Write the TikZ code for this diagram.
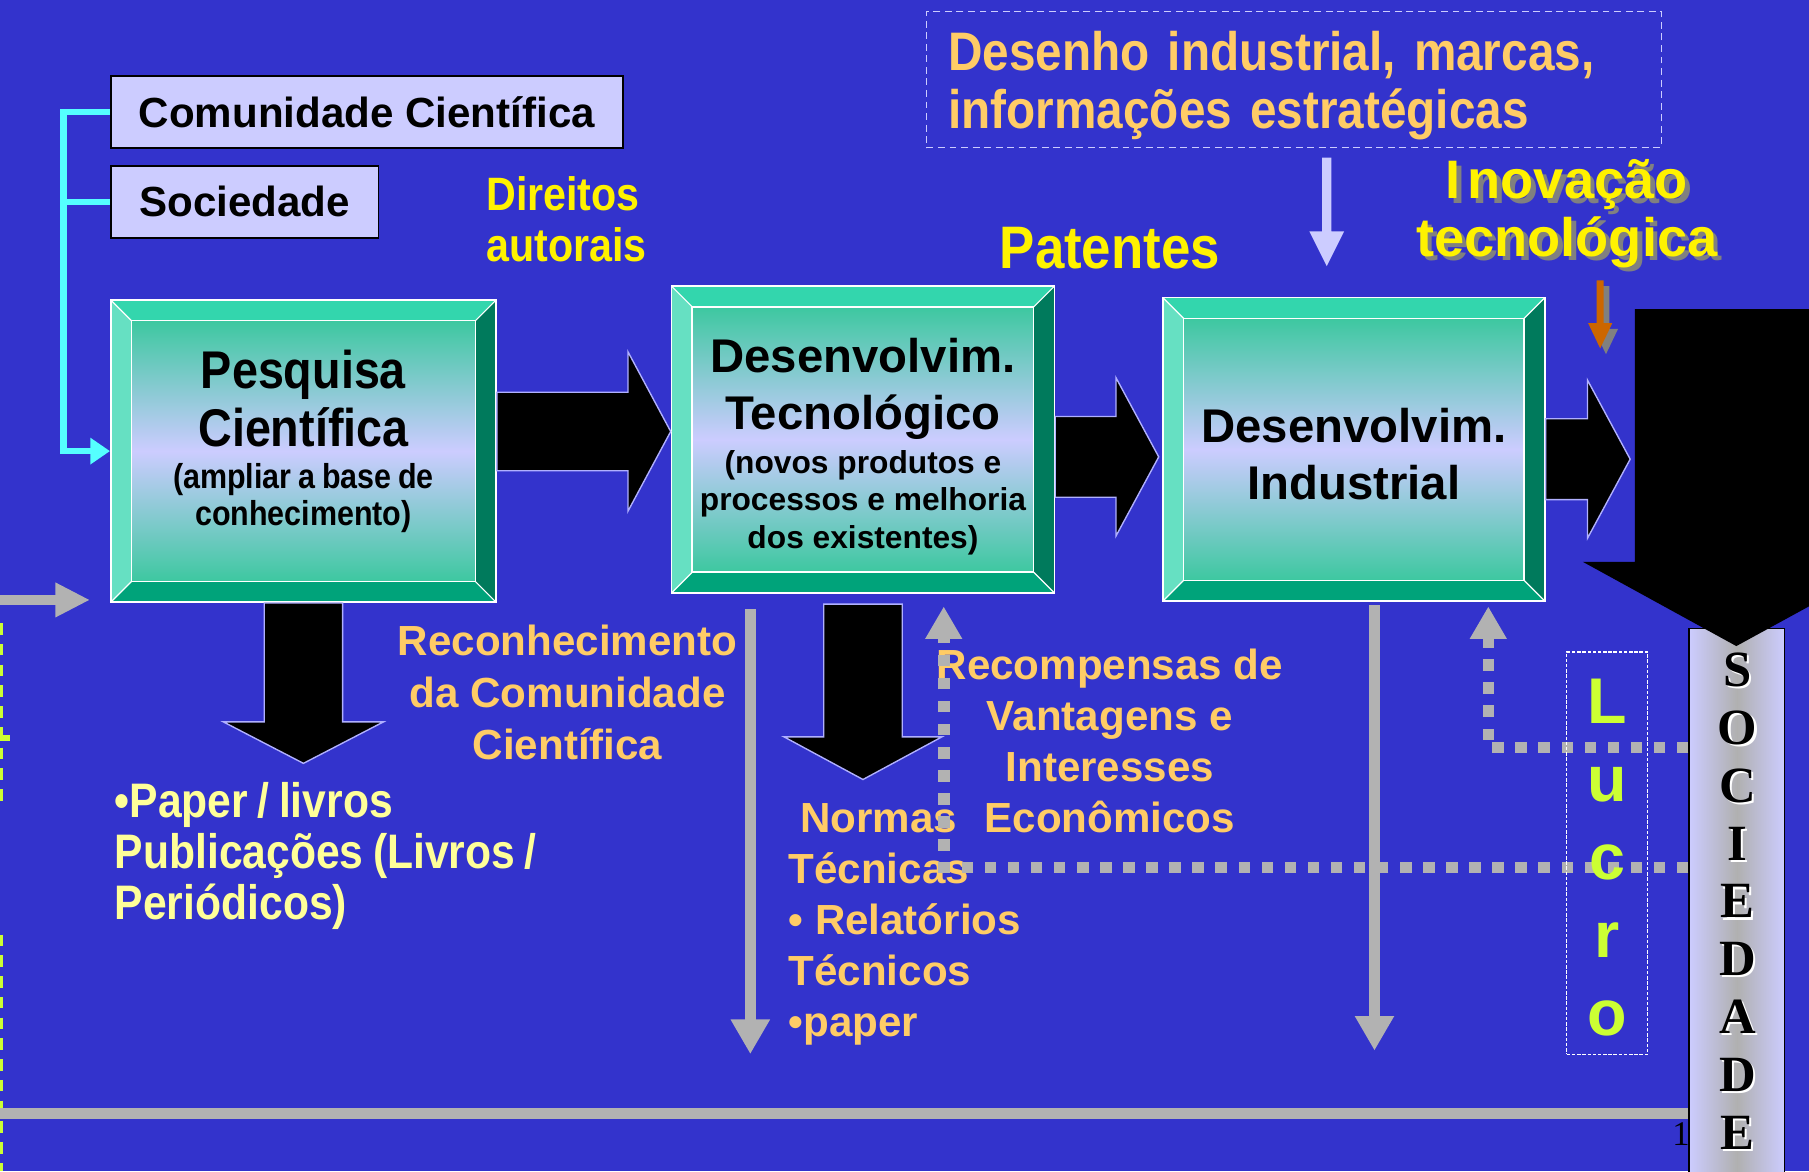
\documentclass[tikz,border=0pt]{standalone}
\usepackage{fontspec}
\setmainfont{Liberation Sans}
\newfontfamily\narrowsans{Liberation Sans}[FakeStretch=0.88, WordSpace=0.8]
\newfontfamily\timesb{Liberation Serif}
\usetikzlibrary{arrows.meta, calc}

\definecolor{slidebg}{RGB}{51,51,204}
\definecolor{lav}{RGB}{204,204,255}
\definecolor{arrline}{RGB}{176,176,255}
\definecolor{orangeT}{RGB}{255,204,102}
\definecolor{paleY}{RGB}{255,255,153}
\definecolor{lucrogreen}{RGB}{204,255,51}
\definecolor{grayA}{RGB}{178,178,178}
\definecolor{socgray}{RGB}{176,176,176}
\definecolor{cyanL}{RGB}{85,255,255}
\definecolor{bevtop}{RGB}{51,214,173}
\definecolor{bevleft}{RGB}{102,224,194}
\definecolor{bevright}{RGB}{0,122,92}
\definecolor{bevbot}{RGB}{0,163,122}
\definecolor{bevin}{RGB}{61,200,160}
\definecolor{orgarrow}{RGB}{204,102,0}

\newcommand\setfs[2]{\fontsize{#1pt}{#2pt}\selectfont}

% block arrow pointing right: style, start, tip, shaft half, head half, head length
\newcommand\rightshape[6]{%
  \path[#1] ($(#2)+(0,-#4)$) -- ($(#3)+(-#6,-#4)$) -- ($(#3)+(-#6,-#5)$) -- (#3)
    -- ($(#3)+(-#6,#5)$) -- ($(#3)+(-#6,#4)$) -- ($(#2)+(0,#4)$) -- cycle;}
% block arrow pointing down: style, top, shaft half, head half, shaft length, head length
\newcommand\downshape[6]{%
  \path[#1] ($(#2)+(-#3,0)$) -- ($(#2)+(-#3,#5)$) -- ($(#2)+(-#4,#5)$) -- ($(#2)+(0,#5+#6)$)
    -- ($(#2)+(#4,#5)$) -- ($(#2)+(#3,#5)$) -- ($(#2)+(#3,0)$) -- cycle;}

\tikzset{
  namebox/.style={fill=lav, draw=black, line width=1.5pt, text=black, font=\bfseries\setfs{36.5}{40}},
  bevelbox/.style={draw=white, line width=1.3pt, inner sep=0pt, align=center, text=black,
    path picture={
      \def\pb{path picture bounding box}
      \fill[bevtop] (\pb.north west) -- (\pb.north east) -- ([shift={(-18pt,-18pt)}]\pb.north east) -- ([shift={(18pt,-18pt)}]\pb.north west) -- cycle;
      \fill[bevbot] (\pb.south west) -- (\pb.south east) -- ([shift={(-18pt,18pt)}]\pb.south east) -- ([shift={(18pt,18pt)}]\pb.south west) -- cycle;
      \fill[bevleft] (\pb.north west) -- (\pb.south west) -- ([shift={(18pt,18pt)}]\pb.south west) -- ([shift={(18pt,-18pt)}]\pb.north west) -- cycle;
      \fill[bevright] (\pb.north east) -- (\pb.south east) -- ([shift={(-18pt,18pt)}]\pb.south east) -- ([shift={(-18pt,-18pt)}]\pb.north east) -- cycle;
      \shade[top color=bevin, bottom color=bevin, middle color=lav] ([shift={(18pt,-18pt)}]\pb.north west) rectangle ([shift={(-18pt,18pt)}]\pb.south east);
      \draw[white, line width=1.3pt] ([shift={(18pt,-18pt)}]\pb.north west) rectangle ([shift={(-18pt,18pt)}]\pb.south east);
      \draw[white, line width=1pt] (\pb.north west) -- ++(18pt,-18pt) (\pb.north east) -- ++(-18pt,-18pt)
        (\pb.south west) -- ++(18pt,18pt) (\pb.south east) -- ++(-18pt,18pt);
    }},
  blockarr/.style={fill=black, draw=arrline, line width=1.2pt},
  grayarrow/.style={grayA, line width=10pt, -{Triangle[length=30pt,width=32pt]}},
  dotline/.style={grayA, line width=10pt, dash pattern=on 10pt off 10pt, -{Triangle[length=28pt,width=30pt]}},
  cyanline/.style={cyanL, line width=5.5pt},
  orangetxt/.style={text=orangeT, font=\bfseries\setfs{36.5}{44.3}}
}

\begin{document}
\begin{tikzpicture}[x=1pt, y=-1pt]
\fill[slidebg] (0,0) rectangle (1568,1015);
\useasboundingbox (0,0) rectangle (1568,1015);

% cut-off marks at the left edge
\draw[lucrogreen, line width=2.5pt, dash pattern=on 10pt off 8pt] (1,540) -- (1,700) (1,810) -- (1,1015);
\draw[lucrogreen, line width=5pt] (0,640) -- (9,640);

% SOCIEDADE column
\node[font=\timesb\setfs{30}{30}] (slideno) at (1457,983) {1};
\node[minimum width=83pt, minimum height=490pt, draw=black, line width=1pt,
  left color=lav, right color=lav, middle color=socgray] (soc) at (1505.5,790) {};
\fill[black] (1417,268) -- (1580,268) -- (1580,519) -- (1505,560) -- (1372,487) -- (1417,487) -- cycle;
\node[font=\timesb\bfseries\setfs{44}{50.1}, text=white, align=center] (socshade) at (1508,783)
  {S\\O\\C\\I\\E\\D\\A\\D\\E};
\node[font=\timesb\bfseries\setfs{44}{50.1}, text=black, align=center] (socword) at (1506,781)
  {S\\O\\C\\I\\E\\D\\A\\D\\E};

% boxes
\node[namebox, minimum width=444pt, minimum height=62pt] (comu) at (318,97) {Comunidade Científica};
\node[namebox, minimum width=232pt, minimum height=62pt] (soci) at (212,175) {Sociedade};

\node[bevelbox, minimum width=334pt, minimum height=262pt, font=\narrowsans\bfseries\setfs{46}{50}] (pesq) at (263,391)
  {Pesquisa\\Científica\\[-13pt]\setfs{30}{32}(ampliar a base de\\[-18pt]\setfs{30}{32}conhecimento)\rule[-23pt]{0pt}{23pt}};
\node[bevelbox, minimum width=332pt, minimum height=266pt, font=\bfseries\setfs{41}{50}] (tecn) at (748,381)
  {\rule{0pt}{42pt}Desenvolvim.\\Tecnológico\\[-12pt]\setfs{27.5}{32}(novos produtos e\\[-18pt]\setfs{27.5}{32}processos e melhoria\\[-17pt]\setfs{27.5}{32}dos existentes)};
\node[bevelbox, minimum width=331pt, minimum height=263pt, font=\bfseries\setfs{41}{50}] (indu) at (1173.5,389.5)
  {\rule{0pt}{38pt}Desenvolvim.\\Industrial};

% cyan feedback
\coordinate (cyanbus) at (55,97);
\draw[cyanline, -{Triangle[length=17pt,width=22pt]}] (comu.west) -- (comu.west -| cyanbus) -- (cyanbus |- pesq.west) -- (pesq.west);
\draw[cyanline] (soci.west) -- (soci.west -| cyanbus);

% black block arrows
\coordinate (aT) at ([yshift=7pt]tecn.west);
\coordinate (aS) at (pesq.east |- aT);
\rightshape{blockarr}{aS}{aT}{34}{69}{37}
\coordinate (bT) at ([xshift=-3pt,yshift=-6.5pt]indu.west);
\coordinate (bS) at (tecn.east |- bT);
\rightshape{blockarr}{bS}{bT}{35}{68.5}{37}
\coordinate (cT) at (1413,398);
\coordinate (cS) at (indu.east |- cT);
\rightshape{blockarr}{cS}{cT}{35}{68.5}{37}
\coordinate (pdown) at (pesq.south);
\downshape{blockarr}{pdown}{34}{69.5}{103}{36}
\coordinate (tdown) at ([yshift=-9pt]tecn.south);
\downshape{blockarr}{tdown}{34}{68.5}{115}{37}

% gray arrows
\draw[grayarrow] ([xshift=69pt,yshift=-13pt]tecn.south west) -- ++(0,386);
\draw[grayarrow] ([xshift=184pt,yshift=-3pt]indu.south west) -- ++(0,386);
\coordinate (barL) at (0,965);
\draw[grayA, line width=10pt] (barL) -- (barL -| soc.west);
\coordinate (leftin) at (0,520);
\coordinate (leftend) at (78,520);
\draw[grayA, line width=9pt, -{Triangle[length=30pt,width=28pt]}] (leftin) -- (leftend);

% texts
\node[text=yellow, font=\narrowsans\bfseries\setfs{40.6}{44}, align=left, anchor=west] (direitos) at (418,190) {Direitos\\autorais};
\node[text=yellow, font=\narrowsans\bfseries\setfs{52}{56}] (patentes) at (962,215) {Patentes};
\node[text=gray, font=\bfseries\setfs{47}{50}, align=center] (inovash) at (1362,189) {I\kern6pt novação\\tecnológica};
\node[text=yellow, font=\bfseries\setfs{47}{50}, align=center] (inova) at (1358,185) {I\kern6pt novação\\tecnológica};
\node[draw=lav, line width=1.2pt, dash pattern=on 6pt off 4pt, text=orangeT, font=\narrowsans\bfseries\setfs{47}{50},
  align=left, text width=599pt, inner xsep=19pt, minimum height=118pt] (desenho) at (1121.5,69)
  {\rule{0pt}{44pt}Desenho industrial, marcas,\\informações estratégicas};
\node[orangetxt, font=\bfseries\setfs{36.5}{45}, align=center] (recon) at (492,600) {Reconhecimento\\da Comunidade\\Científica};
\node[text=paleY, font=\narrowsans\bfseries\setfs{42}{44}, align=left, anchor=west] (paper) at (96,742)
  {•Paper / livros\\Publicações (Livros /\\Periódicos)};
\node[orangetxt, align=left, anchor=west] (normas) at (680,801)
  {\hspace*{10pt}Normas\\Técnicas\\• Relatórios\\Técnicos\\•paper};
\node[orangetxt, align=center] (recomp) at (962,642) {Recompensas de\\Vantagens e\\Interesses\\Econômicos};

% dotted returns from the society
\coordinate (dotA) at (818,752);
\coordinate (tecnup) at ([yshift=-11pt]tecn.south);
\draw[dotline] (dotA -| soc.west) -- (dotA) -- (tecnup -| dotA);
\coordinate (dotB) at (1290,648);
\coordinate (induup) at ([yshift=-4pt]indu.south);
\draw[dotline] (dotB -| soc.west) -- (dotB) -- (induup -| dotB);

\node[draw=white, line width=1.2pt, dash pattern=on 3pt off 1.5pt, minimum width=70pt, minimum height=349pt,
  text=lucrogreen, font=\bfseries\setfs{56}{67.5}, align=center] (lucro) at (1393,739.5) {\rule{0pt}{46pt}L\\u\\c\\r\\o};

% small arrows
\coordinate (desdown) at ([xshift=28.5pt,yshift=-8pt]desenho.south);
\downshape{fill=lav}{desdown}{4}{15}{64}{30}
\coordinate (orgshade) at (1392,248);
\downshape{fill=gray}{orgshade}{3}{10.5}{37}{22}
\coordinate (orgtop) at (1387,243);
\downshape{fill=orgarrow}{orgtop}{3}{10.5}{37}{22}
\end{tikzpicture}
\end{document}
